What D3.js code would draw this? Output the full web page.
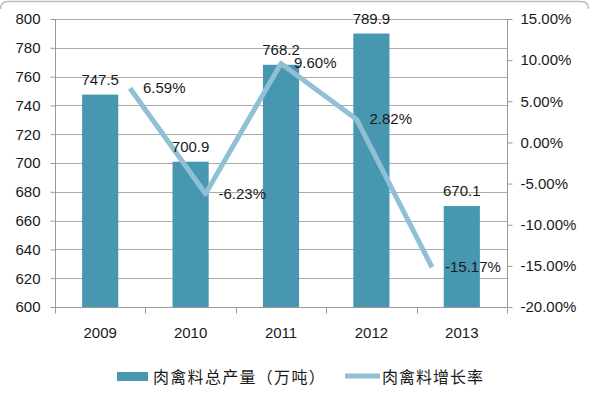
<!DOCTYPE html>
<html>
<head>
<meta charset="utf-8">
<script src="https://cdn.jsdelivr.net/npm/d3@7"></script>
<style>
  body { margin: 0; background: #fff; }
  text { font-family: "Liberation Sans", Arial, sans-serif; fill: #1a1a1a; }
  .cjk { font-family: "Noto Sans CJK SC", sans-serif; }
</style>
</head>
<body>
<svg width="592" height="396"></svg>
<script>
const years = ['2009', '2010', '2011', '2012', '2013'];
const output = [747.5, 700.9, 768.2, 789.9, 670.1];      // 万吨
const growth = [0.0659, -0.0623, 0.0960, 0.0282, -0.1517];
const leftTicks = [600, 620, 640, 660, 680, 700, 720, 740, 760, 780, 800];
const rightTicks = [-0.20, -0.15, -0.10, -0.05, 0, 0.05, 0.10, 0.15];
const legendNames = ['肉禽料总产量（万吨）', '肉禽料增长率'];

const barColor = '#4797b1';
const lineColor = '#90c0d3';

const svg = d3.select('svg');

const plotL = 55, plotR = 507, plotT = 19, plotB = 307;

// plain hyphen instead of d3's unicode minus
const pct = d => d3.format('.2%')(d).replace('\u2212', '-');

const x = d3.scaleBand()
    .domain(years)
    .range([plotL, plotR])
    .paddingInner(0.6)
    .paddingOuter(0.3);

// the growth line sits on its own (offset) horizontal axis
const xLine = d3.scalePoint()
    .domain(years)
    .range([130, 432]);

const yLeft = d3.scaleLinear().domain([600, 800]).range([plotB, plotT]);
const yRight = d3.scaleLinear().domain([-0.20, 0.15]).range([plotB, plotT]);

// frame at top
svg.append('path')
    .attr('d', 'M0.5,9 Q0.5,1.5 8,1.5 H581 Q588.5,1.5 588.5,9')
    .attr('fill', 'none')
    .attr('stroke', '#bdbdbd')
    .attr('stroke-width', 1.5);

// gridlines
svg.append('g')
    .selectAll('line')
    .data(leftTicks.slice(1))
    .enter().append('line')
    .attr('x1', plotL).attr('x2', plotR)
    .attr('y1', d => Math.round(yLeft(d)) + 0.5)
    .attr('y2', d => Math.round(yLeft(d)) + 0.5)
    .attr('stroke', '#ababab');

// left axis
const axisL = d3.axisLeft(yLeft)
    .tickValues(leftTicks)
    .tickSize(5)
    .tickPadding(10)
    .tickFormat(d3.format('d'));
const gL = svg.append('g').attr('transform', `translate(${plotL + 0.5},0)`).call(axisL);

// right axis
const axisR = d3.axisRight(yRight)
    .tickValues(rightTicks)
    .tickSize(5)
    .tickPadding(8)
    .tickFormat(pct);
const gR = svg.append('g').attr('transform', `translate(${plotR + 0.5},0)`).call(axisR);

// bottom axis with ticks at category boundaries
const axisB = d3.axisBottom(x).tickSize(0).tickPadding(20);
const gB = svg.append('g').attr('transform', `translate(0,${plotB + 0.5})`).call(axisB);
gB.selectAll('.bnd')
    .data(d3.range(years.length + 1))
    .enter().append('line')
    .attr('class', 'bnd')
    .attr('x1', i => Math.round(plotL + i * x.step()) + 0.5)
    .attr('x2', i => Math.round(plotL + i * x.step()) + 0.5)
    .attr('y1', 0).attr('y2', 6)
    .attr('stroke', '#999');

[gL, gR, gB].forEach(g => {
    g.selectAll('path.domain').attr('stroke', '#999');
    g.selectAll('.tick line').attr('stroke', '#999');
    g.selectAll('text')
        .style('font-family', '"Liberation Sans", Arial, sans-serif')
        .style('font-size', '15px')
        .attr('fill', '#1a1a1a');
});
gL.select('path.domain').attr('d', `M0,${plotT}V${plotB}`);
gR.select('path.domain').attr('d', `M0,${plotT}V${plotB}`);
gB.select('path.domain').attr('d', `M${plotL},0H${plotR}`);

// bars
svg.append('g')
    .selectAll('rect')
    .data(output)
    .enter().append('rect')
    .attr('x', (d, i) => x(years[i]))
    .attr('width', x.bandwidth())
    .attr('y', d => yLeft(d))
    .attr('height', d => yLeft(600) - yLeft(d))
    .attr('fill', barColor);

// growth line
const line = d3.line()
    .x((d, i) => xLine(years[i]))
    .y(d => yRight(d));
svg.append('path')
    .datum(growth)
    .attr('d', line)
    .attr('fill', 'none')
    .attr('stroke', lineColor)
    .attr('stroke-width', 5)
    .attr('stroke-linejoin', 'round');

// bar labels
svg.append('g')
    .selectAll('text')
    .data(output)
    .enter().append('text')
    .attr('x', (d, i) => x(years[i]) + x.bandwidth() / 2)
    .attr('y', d => yLeft(d) - 10)
    .attr('text-anchor', 'middle')
    .style('font-size', '15px')
    .text(d => d.toFixed(1));

// line labels
svg.append('g')
    .selectAll('text')
    .data(growth)
    .enter().append('text')
    .attr('x', (d, i) => xLine(years[i]) + 13)
    .attr('y', d => yRight(d) + 5)
    .style('font-size', '15px')
    .text(pct);

// legend
const lg = svg.append('g');
lg.append('rect')
    .attr('x', 117).attr('y', 372)
    .attr('width', 31).attr('height', 9)
    .attr('fill', barColor);
lg.append('text')
    .attr('class', 'cjk')
    .attr('x', 153).attr('y', 383)
    .style('font-size', '16px')
    .style('letter-spacing', '1.3px')
    .text(legendNames[0]);
lg.append('line')
    .attr('x1', 345).attr('x2', 380)
    .attr('y1', 376).attr('y2', 376)
    .attr('stroke', lineColor)
    .attr('stroke-width', 5);
lg.append('text')
    .attr('class', 'cjk')
    .attr('x', 382).attr('y', 383)
    .style('font-size', '16px')
    .style('letter-spacing', '1px')
    .text(legendNames[1]);
</script>
</body>
</html>
